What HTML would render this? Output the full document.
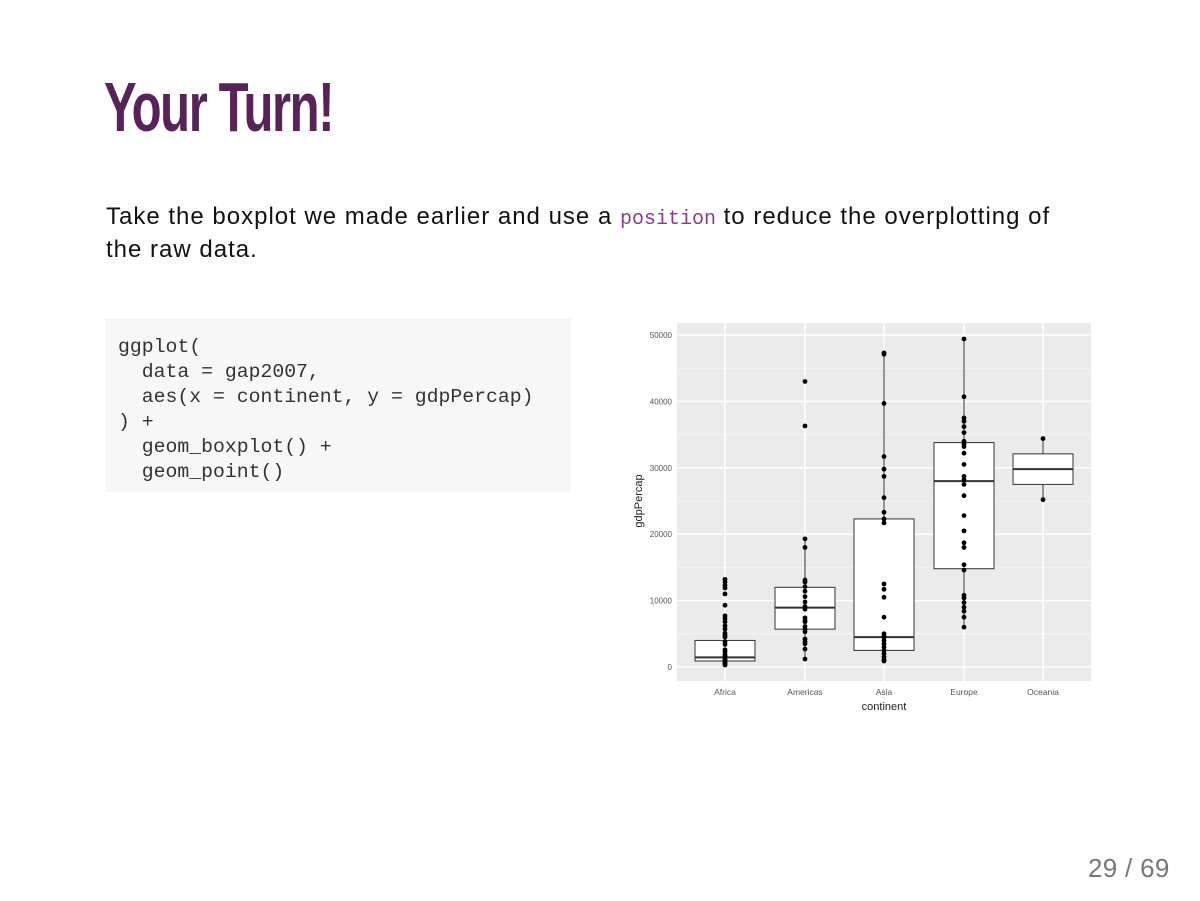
<!DOCTYPE html>
<html><head><meta charset="utf-8"><style>
body{margin:0;width:1200px;height:901px;background:#fff;position:relative;overflow:hidden;font-family:"Liberation Sans",sans-serif}
.t{position:absolute;left:104px;top:62px;font-family:"Liberation Sans Narrow","Liberation Sans",sans-serif;font-size:70px;font-weight:bold;color:#562457;letter-spacing:-2px;transform:scaleX(0.70);transform-origin:left top;line-height:90px}
.p{position:absolute;left:106px;font-size:24px;letter-spacing:1px;color:#111;white-space:nowrap;line-height:32px}
.p code{font-family:"Liberation Mono",monospace;font-size:20px;letter-spacing:0;color:#8e3a8e}
pre{position:absolute;left:105px;top:318px;width:466px;height:174px;margin:0;background:#f7f7f7;box-sizing:border-box;padding:17px 0 0 13px;font-family:"Liberation Mono",monospace;font-size:19.8px;line-height:25px;color:#333}
.n{position:absolute;left:1088px;top:853px;font-size:26px;letter-spacing:0.3px;color:#777}
</style></head><body>
<div class="t">Your Turn!</div>
<div class="p" style="top:201px">Take the boxplot we made earlier and use a <code>position</code> to reduce the overplotting of</div>
<div class="p" style="top:234px">the raw data.</div>
<pre>ggplot(
  data = gap2007,
  aes(x = continent, y = gdpPercap)
) +
  geom_boxplot() +
  geom_point()</pre>
<svg id="s" style="position:absolute;left:0;top:0" width="1200" height="901" font-family="Liberation Sans,sans-serif"></svg>
<div class="n">29 / 69</div>
<script>
var s=document.getElementById('s'),h='';
function Y(v){return 667-v*0.00664}
h+='<rect x="677" y="323" width="414" height="358" fill="#ebebeb"/>';
for(var v=5000;v<50000;v+=10000)h+='<line x1="677" x2="1091" y1="'+Y(v)+'" y2="'+Y(v)+'" stroke="#f5f5f5" stroke-width="0.8"/>';
for(v=0;v<=50000;v+=10000){h+='<line x1="677" x2="1091" y1="'+Y(v)+'" y2="'+Y(v)+'" stroke="#fff" stroke-width="1.5"/>';
h+='<text x="672" y="'+(Y(v)+3)+'" font-size="8" fill="#555" text-anchor="end">'+v+'</text>';}
var X=[725,805,884,964,1043],N=['Africa','Americas','Asia','Europe','Oceania'];
X.forEach(function(x,i){h+='<line x1="'+x+'" x2="'+x+'" y1="323" y2="681" stroke="#fff" stroke-width="1.5"/>';
h+='<text x="'+x+'" y="695" font-size="8.5" fill="#555" text-anchor="middle">'+N[i]+'</text>';});
h+='<text x="884" y="710" font-size="11" fill="#222" text-anchor="middle">continent</text>';
h+='<text transform="translate(642,501) rotate(-90)" font-size="11" fill="#222" text-anchor="middle">gdpPercap</text>';
var B=[[725,278,900,1450,4000,4000],[805,1200,5700,8950,12000,19300],[884,950,2500,4500,22300,47300],[964,5900,14800,28000,33800,49400],[1043,25200,27500,29800,32100,34400]];
B.forEach(function(b){var x=b[0];
h+='<line x1="'+x+'" x2="'+x+'" y1="'+Y(b[1])+'" y2="'+Y(b[5])+'" stroke="#333" stroke-width="1"/>';
h+='<rect x="'+(x-30)+'" y="'+Y(b[4])+'" width="60" height="'+(Y(b[2])-Y(b[4]))+'" fill="#fff" stroke="#333" stroke-width="1"/>';
h+='<line x1="'+(x-30)+'" x2="'+(x+30)+'" y1="'+Y(b[3])+'" y2="'+Y(b[3])+'" stroke="#333" stroke-width="2"/>';});
var P=[[13200,12800,12300,11900,11000,9300,7700,7300,6800,6200,5700,5100,4800,4500,3800,3400,2600,2300,1900,1700,1500,1300,1100,900,700,500,300],
[43000,36300,19300,18000,13100,12800,12100,11400,10600,9800,9100,8700,7400,7000,6800,6100,5700,5300,4200,3800,3500,2700,1200],
[47300,47100,39700,31700,29800,28700,25500,23300,22300,21700,12500,11700,10500,7500,5000,4700,4500,4000,3500,3000,2500,2000,1500,1100,900],
[49400,40700,37500,37000,36200,35300,34000,33600,33200,32200,30500,28700,28200,27500,25800,22800,20500,18700,18000,15400,14600,10800,10400,9700,9000,8400,7500,6000],
[34400,25200]];
P.forEach(function(l,i){l.forEach(function(v){h+='<circle cx="'+X[i]+'" cy="'+Y(v)+'" r="2.4" fill="#000"/>';});});
s.innerHTML=h;
</script>
</body></html>
